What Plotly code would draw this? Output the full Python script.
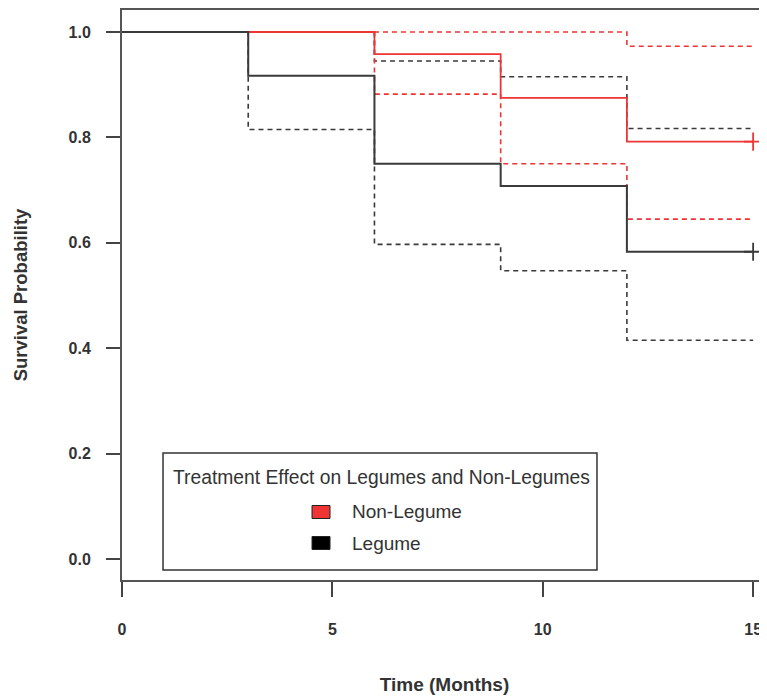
import plotly.graph_objects as go

# ---- data ----
times = [0, 3, 6, 9, 12, 15]
legume_surv = [1.0, 0.917, 0.750, 0.708, 0.583, 0.583]
legume_lower = [1.0, 0.815, 0.597, 0.547, 0.415, 0.415]
legume_upper = [1.0, 1.0, 0.945, 0.915, 0.817, 0.817]
nonlegume_surv = [1.0, 1.0, 0.958, 0.875, 0.792, 0.792]
nonlegume_lower = [1.0, 1.0, 0.882, 0.750, 0.645, 0.645]
nonlegume_upper = [1.0, 1.0, 1.0, 1.0, 0.973, 0.973]
censor_time = 15
x_ticks = [0, 5, 10, 15]
y_ticks = [0.0, 0.2, 0.4, 0.6, 0.8, 1.0]
y_ticklabels = ["0.0", "0.2", "0.4", "0.6", "0.8", "1.0"]
legend_title = "Treatment Effect on Legumes and Non-Legumes"
group_names = ["Non-Legume", "Legume"]

BLACK = "#3a3a3a"
RED = "#ee3434"
DASH = "5px,4px"

fig = go.Figure()

def step(y, color, width, dash=None):
    fig.add_trace(go.Scatter(x=times, y=y, mode="lines", line_shape="hv",
                             line=dict(color=color, width=width, dash=dash),
                             showlegend=False, hoverinfo="skip"))

# black CI (bottom), red curve, red CI, black curve (top)
step(legume_lower, BLACK, 1.6, DASH)
step(legume_upper, BLACK, 1.6, DASH)
step(nonlegume_surv, RED, 1.8)
step(nonlegume_lower, RED, 1.6, DASH)
step(nonlegume_upper, RED, 1.6, DASH)
step(legume_surv, BLACK, 2)

# censor marks
for surv, color in [(nonlegume_surv, RED), (legume_surv, BLACK)]:
    fig.add_trace(go.Scatter(x=[censor_time], y=[surv[-1]], mode="markers",
                             marker=dict(symbol="cross-thin-open", size=13, color=color,
                                         line=dict(color=color, width=1.8)),
                             showlegend=False, hoverinfo="skip", cliponaxis=False))

# ---- manual legend box (paper coords) ----
fig.add_shape(type="rect", xref="paper", yref="paper",
              x0=0.0636, x1=0.7364, y0=0.0175, y1=0.2228,
              line=dict(color="#333333", width=1.5), fillcolor="white", layer="above")
fig.add_annotation(text=legend_title, xref="paper", yref="paper",
                   x=0.4016, y=0.1807, showarrow=False, xanchor="center", yanchor="middle",
                   font=dict(family="Liberation Sans, Arial", size=19.3, color="#333333"))
sq = [(0.1193, RED), (0.0649, "black")]
for (yc, col), name in zip(sq, group_names):
    fig.add_shape(type="rect", xref="paper", yref="paper",
                  x0=0.2946, x1=0.3225, y0=yc - 0.0114, y1=yc + 0.0114,
                  line=dict(color="#222222", width=1), fillcolor=col, layer="above")
    fig.add_annotation(text=name, xref="paper", yref="paper", x=0.3535, y=yc,
                       showarrow=False, xanchor="left", yanchor="middle",
                       font=dict(family="Liberation Sans, Arial", size=19, color="#333333"))

axis_font = dict(family="Liberation Sans, Arial", size=16, color="#333333", weight="bold")

fig.update_layout(
    width=759, height=688,
    margin=dict(l=114, r=0, t=2, b=116),
    plot_bgcolor="white", paper_bgcolor="white",
    showlegend=False,
    xaxis=dict(range=[0, 15.33], tickvals=x_ticks, ticks="outside", ticklen=15,
               tickwidth=1.5, tickcolor="#444444", showline=True, mirror=True,
               linecolor="#555555", linewidth=2, showgrid=False, zeroline=False,
               tickfont=axis_font, ticklabelstandoff=19, automargin=False,
               title=dict(text="Time (Months)", standoff=40,
                          font=dict(family="Liberation Sans, Arial", size=19,
                                    color="#333333", weight="bold"))),
    yaxis=dict(range=[-0.0398, 1.0417], tickvals=y_ticks, ticktext=y_ticklabels,
               ticks="outside", ticklen=14, tickwidth=1.5, tickcolor="#444444",
               showline=True, mirror=False, linecolor="#555555", linewidth=2,
               showgrid=False, zeroline=False, tickfont=axis_font,
               ticklabelstandoff=12, automargin=False,
               title=dict(text="Survival Probability", standoff=36,
                          font=dict(family="Liberation Sans, Arial", size=18.5,
                                    color="#333333", weight="bold"))),
)

fig.write_html("out.html")
